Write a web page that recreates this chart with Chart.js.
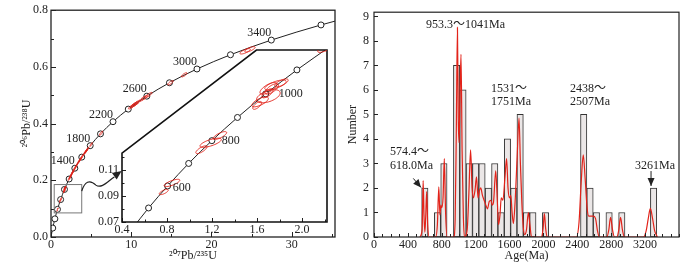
<!DOCTYPE html>
<html>
<head>
<meta charset="utf-8">
<script src="https://cdn.jsdelivr.net/npm/chart.js@4.4.1/dist/chart.umd.min.js"></script>
<style>
  body { margin: 0; background: #fff; }
  #wrap { position: relative; width: 700px; height: 263px; }
  canvas { position: absolute; top: 0; }
</style>
</head>
<body>
<div id="wrap">
  <canvas id="conc" width="350" height="263" style="left:0"></canvas>
  <canvas id="inset" width="350" height="263" style="left:0"></canvas>
  <canvas id="hist" width="354" height="263" style="left:346px"></canvas>
</div>
<script>
// concordia reference points (Ma, 207Pb/235U, 206Pb/238U)
var concAge = [0, 200, 400, 600, 800, 1000, 1200, 1400, 1600, 1800, 2000, 2200, 2400, 2600, 2800, 3000, 3200, 3400, 3600, 3700];
var concX = [0, 0.2177, 0.4828, 0.8056, 1.1987, 1.6774, 2.2603, 2.9701, 3.8344, 4.8868, 6.1684, 7.7290, 9.6292, 11.9433, 14.7613, 18.1927, 22.3716, 27.4598, 33.6539, 37.25];
var concY = [0, 0.0315, 0.0640, 0.0975, 0.1321, 0.1678, 0.2046, 0.2426, 0.2817, 0.3221, 0.3638, 0.4067, 0.4511, 0.4968, 0.5440, 0.5926, 0.6428, 0.6946, 0.7480, 0.7753];
var concLabels = [1400, 1800, 2200, 2600, 3000, 3400];

// inset concordia points, every 100 Ma
var insetAge = [400, 500, 600, 700, 800, 900, 1000, 1100, 1200];
var insetX = [0.4828, 0.6362, 0.8056, 0.9925, 1.1987, 1.4263, 1.6774, 1.9546, 2.2603];
var insetY = [0.0640, 0.0807, 0.0975, 0.1147, 0.1321, 0.1498, 0.1678, 0.1861, 0.2046];
var insetLabels = [600, 800, 1000];

// zircon analyses: centre, 2-sigma errors and error correlation
var grainX = [0.771, 0.844, 1.106, 1.188, 1.270, 1.602, 1.627, 1.701, 1.694, 1.701, 1.731, 1.764, 1.817,
  2.29, 2.40, 2.46, 2.60, 2.70, 2.78, 2.93, 3.05, 3.17, 3.38, 3.55, 3.65, 3.75, 3.88, 4.13, 4.30, 4.39, 4.45, 4.55, 5.00,
  6.24, 10.06, 10.30, 10.39, 10.55, 10.73, 11.44, 11.70, 12.20, 14.90, 16.60, 24.2, 24.8];
var grainY = [0.0929, 0.0998, 0.1252, 0.1305, 0.1360, 0.1590, 0.1617, 0.1660, 0.1683, 0.1720, 0.1716, 0.1746, 0.1762,
  0.2065, 0.2120, 0.2160, 0.2234, 0.2280, 0.2330, 0.2406, 0.2460, 0.2522, 0.2620, 0.2690, 0.2738, 0.2780, 0.2837, 0.2937, 0.3000, 0.3038, 0.3060, 0.3099, 0.3262,
  0.3659, 0.4601, 0.4650, 0.4669, 0.4700, 0.4737, 0.4876, 0.4920, 0.5014, 0.5440, 0.5720, 0.655, 0.662];
var grainEx = [0.040, 0.070, 0.050, 0.095, 0.060, 0.040, 0.074, 0.105, 0.050, 0.075, 0.060, 0.095, 0.060,
  0.15, 0.15, 0.15, 0.15, 0.15, 0.15, 0.15, 0.15, 0.15, 0.15, 0.15, 0.15, 0.15, 0.15, 0.15, 0.15, 0.15, 0.15, 0.15, 0.15,
  0.20, 0.40, 0.40, 0.40, 0.40, 0.40, 0.40, 0.40, 0.40, 0.35, 0.35, 0.65, 0.65];
var grainEy = [0.0020, 0.0028, 0.0030, 0.0035, 0.0030, 0.0030, 0.0038, 0.0050, 0.0035, 0.0045, 0.0040, 0.0038, 0.0030,
  0.007, 0.007, 0.007, 0.007, 0.007, 0.007, 0.007, 0.007, 0.007, 0.007, 0.007, 0.007, 0.007, 0.007, 0.007, 0.007, 0.007, 0.007, 0.007, 0.007,
  0.0075, 0.0085, 0.0085, 0.0085, 0.0085, 0.0085, 0.0085, 0.0085, 0.0085, 0.0075, 0.0075, 0.0095, 0.0095];
var grainRho = [0.7, 0.75, 0.75, 0.7, 0.75, 0.7, 0.7, 0.5, 0.7, 0.7, 0.7, 0.7, 0.7,
  0.9, 0.9, 0.9, 0.9, 0.9, 0.9, 0.9, 0.9, 0.9, 0.9, 0.9, 0.9, 0.9, 0.9, 0.9, 0.9, 0.9, 0.9, 0.9, 0.9,
  0.85, 0.85, 0.85, 0.85, 0.85, 0.85, 0.85, 0.85, 0.85, 0.8, 0.8, 0.75, 0.75];

// age histogram (bin centres, 75 Ma bins) and probability curve
var binAge = [600, 750, 825, 975, 1050, 1125, 1200, 1275, 1350, 1425, 1500, 1575, 1650, 1725, 1800, 1875, 2025, 2475, 2550, 2625, 2775, 2925, 3300];
var binCount = [2, 1, 3, 7, 6, 3, 3, 3, 2, 3, 1, 4, 2, 5, 1, 1, 1, 5, 2, 1, 1, 1, 2];
var kdeAge = [540, 568, 580, 590, 600, 610, 622, 634, 652,
  728, 748, 765, 778, 790, 800, 815, 830, 845, 862,
  940, 958, 972, 985, 995, 1004, 1014, 1027, 1040, 1055, 1068,
  1100, 1120, 1140, 1158, 1173, 1192, 1210, 1228, 1245, 1260, 1280, 1300, 1320, 1340, 1360, 1380, 1395, 1410, 1437, 1455, 1470, 1487, 1502, 1522, 1545, 1565, 1582, 1598, 1615, 1630, 1645, 1665, 1690, 1712, 1728, 1745, 1762, 1780, 1800, 1822, 1840, 1860,
  1978, 1996, 2011, 2026, 2044,
  2390, 2420, 2445, 2470, 2492, 2515, 2535, 2560, 2590, 2615, 2638, 2660,
  2748, 2772, 2792, 2815, 2838,
  2866, 2890, 2910, 2932, 2955,
  3182, 3212, 3237, 3262, 3288, 3313, 3345];
var kdeVal = [0, 0.3, 2.3, 0.9, 0.2, 0.8, 1.85, 0.5, 0,
  0, 0.5, 2.05, 0.9, 1.3, 1.2, 1.6, 3.2, 1.0, 0,
  0, 0.7, 4.5, 8.55, 4.8, 3.85, 5.5, 7.45, 3.5, 0.8, 0,
  0.3, 1.8, 3.55, 2.0, 1.6, 1.9, 2.45, 1.6, 1.9, 2.0, 1.7, 1.5, 1.3, 1.15, 1.45, 1.5, 1.3, 1.4, 2.7, 1.5, 0.5, 0.9, 1.6, 1.5, 2.4, 3.2, 2.0, 1.6, 1.7, 1.0, 0.55, 1.4, 3.3, 4.85, 3.0, 1.4, 0.4, 0.1, 0.3, 1.0, 0.5, 0,
  0, 0.35, 0.95, 0.35, 0,
  0, 0.6, 2.2, 3.35, 2.4, 1.2, 0.85, 0.85, 0.85, 0.75, 0.25, 0,
  0, 0.3, 0.8, 0.3, 0,
  0, 0.3, 0.8, 0.3, 0,
  0, 0.25, 0.75, 1.17, 0.75, 0.25, 0];

var SERIF = '"Liberation Serif", "Times New Roman", serif';
var INK = '#222';
var RED = '#e2231a';

Chart.defaults.font.family = SERIF;
Chart.defaults.font.size = 12;
Chart.defaults.color = INK;
Chart.defaults.animation = false;
Chart.defaults.plugins.legend.display = false;
Chart.defaults.plugins.tooltip.enabled = false;

function pts(xs, ys) {
  return xs.map(function (x, i) { return { x: x, y: ys[i] }; });
}

function axis(min, max, step, label, size, pad, extra) {
  var o = {
    type: 'linear', min: min, max: max, offset: false,
    grid: { display: false, drawTicks: false, offset: false },
    border: { display: false },
    ticks: { stepSize: step, autoSkip: false, includeBounds: false, maxRotation: 0, padding: pad, callback: label },
    afterFit: function (s) { if (s.isHorizontal()) s.height = size; else s.width = size; }
  };
  return Object.assign(o, extra || {});
}

// frame and inward tick marks
var frame = {
  id: 'frame',
  beforeDatasetsDraw: function (chart, args, opts) {
    if (opts.shape !== 'inset') return;
    var ctx = chart.ctx;
    ctx.save();
    insetPath(chart, opts);
    ctx.fillStyle = '#fff';
    ctx.fill();
    ctx.restore();
  },
  afterDatasetsDraw: function (chart, args, opts) {
    var ctx = chart.ctx, a = chart.chartArea, xs = chart.scales.x, ys = chart.scales.y;
    ctx.save();
    ctx.strokeStyle = INK;
    ctx.lineWidth = 1;
    ctx.beginPath();
    xs.ticks.forEach(function (t) {
      var p = Math.round(xs.getPixelForValue(t.value)) + 0.5;
      var len = t.label !== '' ? opts.major : opts.minor;
      ctx.moveTo(p, a.bottom);
      ctx.lineTo(p, a.bottom - len);
    });
    ys.ticks.forEach(function (t) {
      if (opts.yTickMax !== undefined && t.value > opts.yTickMax) return;
      var p = Math.round(ys.getPixelForValue(t.value)) + 0.5;
      var len = t.label !== '' ? opts.major : opts.minor;
      ctx.moveTo(a.left, p);
      ctx.lineTo(a.left + len, p);
    });
    ctx.stroke();
    if (opts.shape === 'inset') {
      insetPath(chart, opts);
      ctx.lineWidth = 1.6;
      ctx.strokeStyle = '#111';
      ctx.stroke();
    } else {
      ctx.lineWidth = opts.width || 1.2;
      ctx.strokeRect(a.left, a.top, a.right - a.left, a.bottom - a.top);
    }
    ctx.restore();
  }
};

function insetPath(chart, opts) {
  var ctx = chart.ctx, a = chart.chartArea, xs = chart.scales.x, ys = chart.scales.y;
  ctx.beginPath();
  ctx.moveTo(a.left, a.bottom);
  ctx.lineTo(a.left, ys.getPixelForValue(opts.cornerY));
  ctx.lineTo(xs.getPixelForValue(opts.cornerX), a.top);
  ctx.lineTo(a.right, a.top);
  ctx.lineTo(a.right, a.bottom);
  ctx.closePath();
}

// error ellipses of the analyses
var ellipses = {
  id: 'ellipses',
  afterDatasetsDraw: function (chart) {
    var ctx = chart.ctx, a = chart.chartArea, xs = chart.scales.x, ys = chart.scales.y;
    ctx.save();
    ctx.beginPath();
    ctx.rect(a.left, a.top, a.right - a.left, a.bottom - a.top);
    ctx.clip();
    ctx.strokeStyle = RED;
    ctx.lineWidth = 0.9;
    for (var i = 0; i < grainX.length; i++) {
      var r = grainRho[i], q = Math.sqrt(1 - r * r);
      ctx.beginPath();
      for (var k = 0; k <= 48; k++) {
        var t = Math.PI * 2 * k / 48;
        var px = xs.getPixelForValue(grainX[i] + grainEx[i] * Math.cos(t));
        var py = ys.getPixelForValue(grainY[i] + grainEy[i] * (r * Math.cos(t) + q * Math.sin(t)));
        if (k === 0) ctx.moveTo(px, py); else ctx.lineTo(px, py);
      }
      ctx.stroke();
    }
    ctx.restore();
  }
};

function arrowHead(ctx, x1, y1, x2, y2, len, half) {
  var ang = Math.atan2(y2 - y1, x2 - x1);
  ctx.beginPath();
  ctx.moveTo(x2, y2);
  ctx.lineTo(x2 - len * Math.cos(ang) + half * Math.sin(ang), y2 - len * Math.sin(ang) - half * Math.cos(ang));
  ctx.lineTo(x2 - len * Math.cos(ang) - half * Math.sin(ang), y2 - len * Math.sin(ang) + half * Math.cos(ang));
  ctx.closePath();
  ctx.fill();
}

// text notes, arrows, zoom box
var notes = {
  id: 'notes',
  afterDatasetsDraw: function (chart, args, opts) {
    var ctx = chart.ctx, xs = chart.scales.x, ys = chart.scales.y;
    function X(v) { return xs.getPixelForValue(v); }
    function Y(v) { return ys.getPixelForValue(v); }
    ctx.save();
    ctx.fillStyle = INK;
    ctx.strokeStyle = INK;
    ctx.font = (opts.size || 12) + 'px ' + SERIF + ', "Noto Sans CJK SC"';
    ctx.textBaseline = 'middle';
    (opts.texts || []).forEach(function (t) {
      ctx.textAlign = t.align || 'left';
      ctx.fillText(t.text, X(t.x) + (t.dx || 0), Y(t.y) + (t.dy || 0));
    });
    (opts.arrows || []).forEach(function (r) {
      var x1 = X(r.x1), y1 = Y(r.y1), x2 = X(r.x2), y2 = Y(r.y2);
      ctx.lineWidth = 1;
      ctx.beginPath();
      ctx.moveTo(x1, y1);
      ctx.lineTo(x2, y2);
      ctx.stroke();
      arrowHead(ctx, x1, y1, x2, y2, 8, 3.5);
    });
    if (opts.box) {
      var b = opts.box;
      ctx.strokeStyle = '#777';
      ctx.lineWidth = 1;
      ctx.strokeRect(X(b.x0), Y(b.y1), X(b.x1) - X(b.x0), Y(b.y0) - Y(b.y1));
    }
    if (opts.curl) {
      var c = opts.curl;
      ctx.strokeStyle = INK;
      ctx.lineWidth = 1.2;
      ctx.beginPath();
      ctx.moveTo(X(c[0][0]), Y(c[0][1]));
      ctx.bezierCurveTo(X(c[1][0]), Y(c[1][1]), X(c[2][0]), Y(c[2][1]), X(c[3][0]), Y(c[3][1]));
      ctx.bezierCurveTo(X(c[4][0]), Y(c[4][1]), X(c[5][0]), Y(c[5][1]), X(c[6][0]), Y(c[6][1]));
      ctx.stroke();
      arrowHead(ctx, X(c[5][0]), Y(c[5][1]), X(c[7][0]), Y(c[7][1]), 9, 4);
    }
    ctx.restore();
  }
};

function concLabelNotes(ages, xs, ys, list, offs) {
  return ages.map(function (age, j) {
    var i = list.indexOf(age);
    var o = offs[j];
    return { x: xs[i], y: ys[i], text: String(age), align: o.align, dx: o.dx, dy: o.dy };
  });
}

// main concordia diagram
new Chart(document.getElementById('conc'), {
  type: 'line',
  data: {
    datasets: [{
      data: pts(concX, concY),
      borderColor: INK,
      borderWidth: 1,
      cubicInterpolationMode: 'monotone',
      pointRadius: function (c) {
        var age = concAge[c.dataIndex];
        return age > 0 && age <= 3600 ? 3 : 0;
      },
      pointBackgroundColor: '#fff',
      pointBorderColor: INK,
      pointBorderWidth: 1
    }]
  },
  options: {
    responsive: false,
    layout: { padding: { left: 20, right: 15, top: 5, bottom: 0 } },
    scales: {
      x: axis(0, 35.4, 5, function (v) { return v % 10 === 0 ? String(v) : ''; }, 26, 1,
        { title: { display: true, text: '²⁰⁷Pb/²³⁵U', padding: { top: 0, bottom: 0 }, font: { size: 12 } } }),
      y: axis(0, 0.8, 0.1, function (v) {
        var n = Math.round(v * 10);
        return n % 2 === 0 ? (n / 10).toFixed(1) : '';
      }, 31, 3, { title: { display: true, text: '²⁰⁶Pb/²³⁸U', padding: { top: 0, bottom: 0 }, font: { size: 12 } } })
    },
    plugins: {
      frame: { major: 5, minor: 3, width: 1.3 },
      notes: {
        size: 12,
        texts: concLabelNotes(concLabels, concX, concY, concAge,
          concLabels.map(function () { return { align: 'right', dx: 0, dy: -7 }; })),
        box: { x0: 0.4, x1: 3.83, y0: 0.085, y1: 0.185 },
        curl: [[3.83, 0.162], [4.2, 0.195], [4.8, 0.205], [5.6, 0.183],
               [6.3, 0.168], [7.2, 0.2], [7.9, 0.212], [8.8, 0.233]]
      }
    }
  },
  plugins: [ellipses, frame, notes]
});

// enlarged inset of the young part of the concordia
new Chart(document.getElementById('inset'), {
  type: 'line',
  data: {
    datasets: [{
      data: pts(insetX, insetY),
      borderColor: INK,
      borderWidth: 1,
      cubicInterpolationMode: 'monotone',
      pointRadius: function (c) {
        var age = insetAge[c.dataIndex];
        return age > 400 && age < 1200 ? 3 : 0;
      },
      pointBackgroundColor: '#fff',
      pointBorderColor: INK,
      pointBorderWidth: 1
    }]
  },
  options: {
    responsive: false,
    layout: { padding: { left: 90, right: 23, top: 50, bottom: 27 } },
    scales: {
      x: axis(0.4, 2.222, 0.2, function (v) {
        var n = Math.round(v * 10);
        return n % 4 === 0 ? (n / 10).toFixed(1) : '';
      }, 14, 1),
      y: axis(0.07, 0.2013, 0.01, function (v) {
        var n = Math.round(v * 100);
        return (n === 7 || n === 9 || n === 11) ? (n / 100).toFixed(2) : '';
      }, 32, 3)
    },
    plugins: {
      frame: { shape: 'inset', major: 4, minor: 2.5, yTickMax: 0.1225, cornerX: 1.595, cornerY: 0.1225 },
      notes: {
        size: 12,
        texts: concLabelNotes(insetLabels, insetX, insetY, insetAge,
          [{ align: 'left', dx: 5, dy: 2 }, { align: 'left', dx: 10, dy: 0 }, { align: 'left', dx: 13, dy: 0 }])
      }
    }
  },
  plugins: [frame, ellipses, notes]
});

// age histogram with probability curve
new Chart(document.getElementById('hist'), {
  type: 'bar',
  data: {
    datasets: [{
      type: 'line',
      order: 0,
      data: pts(kdeAge, kdeVal),
      borderColor: RED,
      borderWidth: 1.2,
      pointRadius: 0,
      cubicInterpolationMode: 'monotone'
    }, {
      type: 'bar',
      order: 1,
      data: pts(binAge, binCount),
      backgroundColor: '#ebe7e7',
      borderColor: '#333',
      borderWidth: 1,
      borderSkipped: false,
      barPercentage: 1,
      categoryPercentage: 1
    }]
  },
  options: {
    responsive: false,
    layout: { padding: { left: 0, right: 21, top: 5, bottom: 0 } },
    scales: {
      x: axis(0, 3600, 100, function (v) { return (v % 400 === 0 && v < 3600) ? String(v) : ''; }, 26, 1,
        { title: { display: true, text: 'Age(Ma)', padding: { top: 0, bottom: 0 }, font: { size: 12 } } }),
      y: axis(0, 9.17, 1, function (v) { return String(v); }, 28, 5,
        { title: { display: true, text: 'Number', padding: { top: 0, bottom: 0 }, font: { size: 12 } } })
    },
    plugins: {
      frame: { major: 4, minor: 3, width: 1.2 },
      notes: {
        size: 12,
        texts: [
          { x: 1080, y: 8.64, text: '953.3～1041Ma', align: 'center' },
          { x: 1381, y: 6.03, text: '1531～' },
          { x: 1381, y: 5.53, text: '1751Ma' },
          { x: 2314, y: 6.03, text: '2438～' },
          { x: 2314, y: 5.53, text: '2507Ma' },
          { x: 189, y: 3.48, text: '574.4～' },
          { x: 189, y: 2.92, text: '618.0Ma' },
          { x: 3081, y: 2.92, text: '3261Ma' }
        ],
        arrows: [
          { x1: 464, y1: 2.39, x2: 555, y2: 2.02 },
          { x1: 3270, y1: 2.69, x2: 3270, y2: 2.08 }
        ]
      }
    }
  },
  plugins: [frame, notes]
});
</script>
</body>
</html>
